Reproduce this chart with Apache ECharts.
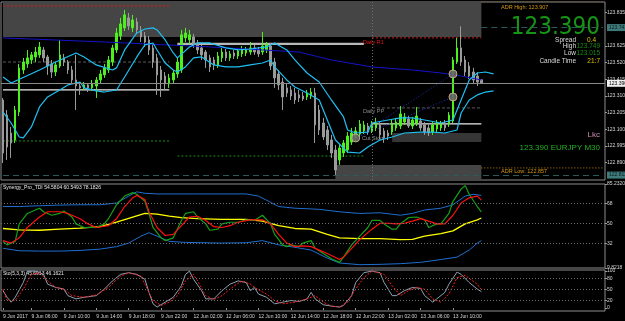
<!DOCTYPE html>
<html>
<head>
<meta charset="utf-8">
<title>EURJPY,M30</title>
<script src="https://cdn.jsdelivr.net/npm/echarts@6/dist/echarts.min.js"></script>
<style>
html, body { margin: 0; padding: 0; background: #000; }
#chart { width: 625px; height: 321px; }
</style>
</head>
<body>
<div id="chart"></div>
<script>
// M30 bars: index 0 = 9 Jun 02:30 ... index 118 = 13 Jun 13:30, rest is empty space on the right
const barCount = 149
const xLabelIndex = [0, 7, 15, 23, 31, 39, 47, 55, 63, 71, 79, 87, 95, 103, 111]
const xLabelText = ['9 Jun 2017', '9 Jun 06:00', '9 Jun 10:00', '9 Jun 14:00', '9 Jun 18:00', '9 Jun 22:00',
  '12 Jun 02:00', '12 Jun 06:00', '12 Jun 10:00', '12 Jun 14:00', '12 Jun 18:00', '12 Jun 22:00',
  '13 Jun 02:00', '13 Jun 06:00', '13 Jun 10:00']

const priceTicks = [122.890, 122.995, 123.100, 123.205, 123.310, 123.415, 123.520, 123.625, 123.835]
const tdiTicks = [9.8218, 32, 50, 68, 85.2320]
const stochTicks = [0, 20, 50, 80, 100]

// [open, close, low, high]
const candles = [
  [123.285, 122.951, 122.888, 123.298], [123.190, 122.989, 122.907, 123.222], [123.077, 123.014, 122.920, 123.115],
  [123.033, 123.222, 123.014, 123.247], [123.209, 123.487, 123.184, 123.512], [123.474, 123.524, 123.449, 123.550],
  [123.512, 123.550, 123.487, 123.600], [123.537, 123.569, 123.512, 123.587], [123.556, 123.587, 123.524, 123.619],
  [123.569, 123.619, 123.550, 123.650], [123.600, 123.550, 123.524, 123.619], [123.556, 123.499, 123.443, 123.569],
  [123.512, 123.461, 123.424, 123.537], [123.461, 123.506, 123.436, 123.524], [123.499, 123.569, 123.487, 123.663],
  [123.550, 123.524, 123.499, 123.575], [123.524, 123.474, 123.449, 123.537], [123.474, 123.411, 123.386, 123.499],
  [123.411, 123.373, 123.222, 123.569], [123.373, 123.361, 123.317, 123.398], [123.361, 123.380, 123.348, 123.398],
  [123.380, 123.361, 123.335, 123.392], [123.361, 123.386, 123.342, 123.411], [123.373, 123.411, 123.298, 123.430],
  [123.411, 123.449, 123.386, 123.474], [123.443, 123.487, 123.424, 123.512], [123.474, 123.537, 123.455, 123.562],
  [123.524, 123.613, 123.499, 123.632], [123.600, 123.707, 123.581, 123.739], [123.688, 123.764, 123.663, 123.802],
  [123.739, 123.821, 123.720, 123.852], [123.802, 123.751, 123.726, 123.833], [123.739, 123.789, 123.713, 123.821],
  [123.776, 123.726, 123.701, 123.802], [123.726, 123.682, 123.650, 123.751], [123.688, 123.650, 123.619, 123.713],
  [123.663, 123.600, 123.569, 123.688], [123.613, 123.524, 123.487, 123.638], [123.550, 123.443, 123.317, 123.575],
  [123.474, 123.411, 123.304, 123.499], [123.436, 123.386, 123.348, 123.461], [123.386, 123.424, 123.361, 123.449],
  [123.411, 123.455, 123.386, 123.474], [123.449, 123.524, 123.424, 123.550], [123.474, 123.695, 123.455, 123.726],
  [123.676, 123.707, 123.650, 123.739], [123.663, 123.695, 123.638, 123.726], [123.682, 123.638, 123.613, 123.701],
  [123.644, 123.600, 123.575, 123.663], [123.613, 123.569, 123.537, 123.632], [123.587, 123.537, 123.487, 123.600],
  [123.550, 123.493, 123.461, 123.569], [123.537, 123.506, 123.474, 123.556], [123.506, 123.562, 123.487, 123.587],
  [123.550, 123.587, 123.524, 123.613], [123.587, 123.550, 123.531, 123.606], [123.550, 123.575, 123.531, 123.594],
  [123.581, 123.562, 123.543, 123.600], [123.562, 123.594, 123.543, 123.613], [123.575, 123.600, 123.556, 123.625],
  [123.581, 123.600, 123.562, 123.619], [123.587, 123.613, 123.569, 123.650], [123.613, 123.587, 123.569, 123.632],
  [123.600, 123.575, 123.556, 123.619], [123.587, 123.625, 123.569, 123.713], [123.600, 123.632, 123.581, 123.650],
  [123.625, 123.499, 123.474, 123.644], [123.524, 123.424, 123.361, 123.550], [123.449, 123.380, 123.348, 123.474],
  [123.398, 123.304, 123.222, 123.424], [123.361, 123.329, 123.304, 123.386], [123.348, 123.310, 123.285, 123.373],
  [123.329, 123.285, 123.260, 123.361], [123.317, 123.298, 123.272, 123.348], [123.310, 123.291, 123.279, 123.335],
  [123.304, 123.329, 123.285, 123.348], [123.310, 123.335, 123.291, 123.361], [123.329, 123.128, 123.014, 123.361],
  [123.222, 123.096, 123.065, 123.254], [123.140, 123.052, 123.033, 123.172], [123.096, 123.002, 122.970, 123.121],
  [123.033, 122.951, 122.920, 123.065], [122.970, 122.844, 122.813, 123.002], [122.907, 122.983, 122.876, 123.008],
  [122.951, 123.014, 122.926, 123.033], [122.970, 123.058, 122.951, 123.083], [123.020, 123.077, 123.002, 123.109],
  [123.046, 123.090, 123.027, 123.115], [123.071, 123.134, 123.052, 123.159], [123.090, 123.128, 123.071, 123.153],
  [123.121, 123.083, 123.065, 123.140], [123.090, 123.134, 123.077, 123.153], [123.109, 123.140, 123.090, 123.172],
  [123.128, 123.065, 123.039, 123.146], [123.090, 123.046, 123.015, 123.109], [123.077, 123.058, 123.033, 123.096],
  [123.083, 123.134, 123.065, 123.159], [123.109, 123.146, 123.090, 123.172], [123.121, 123.197, 123.102, 123.247],
  [123.146, 123.178, 123.128, 123.203], [123.165, 123.121, 123.109, 123.184], [123.121, 123.159, 123.102, 123.178],
  [123.140, 123.184, 123.121, 123.241], [123.153, 123.109, 123.090, 123.172], [123.128, 123.083, 123.065, 123.146],
  [123.109, 123.077, 123.058, 123.128], [123.083, 123.128, 123.065, 123.146], [123.102, 123.140, 123.083, 123.159],
  [123.109, 123.134, 123.090, 123.153], [123.140, 123.109, 123.090, 123.159], [123.134, 123.190, 123.115, 123.209],
  [123.153, 123.537, 123.140, 123.556], [123.524, 123.613, 123.512, 123.676], [123.613, 123.524, 123.499, 123.749],
  [123.537, 123.461, 123.436, 123.562], [123.499, 123.436, 123.417, 123.524], [123.461, 123.411, 123.386, 123.487],
  [123.436, 123.398, 123.373, 123.461], [123.412, 123.390, 123.385, 123.414]
]

// main pane indicators, [bar, price]
const bandUpper = [[0, 123.430], [2, 123.392], [9, 123.474], [13, 123.524], [18, 123.581], [20, 123.556], [23, 123.506],
  [27, 123.474], [28, 123.487], [30, 123.600], [33, 123.707], [35, 123.732], [37, 123.739], [38, 123.726], [40, 123.663],
  [42, 123.581], [43, 123.550], [46, 123.619], [48, 123.644], [51, 123.644], [55, 123.613], [58, 123.600], [61, 123.606],
  [65, 123.619], [67, 123.644], [70, 123.600], [72, 123.537], [75, 123.455], [78, 123.398], [81, 123.285], [84, 123.178],
  [85, 123.096], [87, 123.077], [90, 123.083], [91, 123.140], [95, 123.159], [98, 123.172], [101, 123.172], [104, 123.159],
  [108, 123.140], [111, 123.159], [113, 123.285], [115, 123.411], [117, 123.455], [119, 123.461], [121, 123.449]]
const bandLower = [[0, 123.209], [2, 123.140], [4, 123.052], [5, 123.046], [7, 123.115], [9, 123.241], [11, 123.304],
  [14, 123.348], [16, 123.380], [19, 123.398], [20, 123.361], [23, 123.342], [25, 123.335], [28, 123.348], [30, 123.430],
  [33, 123.556], [35, 123.632], [37, 123.644], [38, 123.600], [40, 123.518], [42, 123.474], [43, 123.461], [45, 123.493],
  [47, 123.550], [49, 123.556], [52, 123.506], [55, 123.493], [58, 123.493], [61, 123.506], [64, 123.518], [66, 123.537],
  [67, 123.493], [70, 123.411], [72, 123.367], [75, 123.329], [78, 123.285], [80, 123.159], [82, 123.033], [85, 122.957],
  [88, 122.951], [90, 122.989], [93, 123.033], [96, 123.052], [99, 123.077], [103, 123.083], [106, 123.083], [109, 123.077],
  [112, 123.096], [113, 123.203], [115, 123.285], [117, 123.317], [119, 123.335], [121, 123.342]]
const maLine = [[0, 123.676], [25, 123.650], [51, 123.619], [73, 123.587], [81, 123.537], [91, 123.493], [101, 123.474],
  [108, 123.455], [113, 123.436], [118, 123.411]]

// levels: [fromBar, toBar, price]
const redDashLevels = [[0, 41, 123.877], [91, 118, 123.676]]
const whiteLevels = [[0, 41, 123.348], [91, 118, 123.134]]
const silverLevels = [[43, 89, 123.638]]
const greenDashLevels = [[0, 41, 123.027], [43, 89, 122.932]]
const grayDashLevels = [[0, 41, 123.524], [91, 118, 123.235]]
const adrLevels = [[118, 148, 123.907], [118, 148, 122.857]]
const bidPrice = 123.390
const highMark = 123.741
const lowMark = 122.812
// boxes: [fromBar, toBar, lowPrice, highPrice]
const grayBoxes = [[0, 118, 123.682, 123.902], [82, 118, 122.781, 122.876]]
const darkBoxes = [[96, 118, 123.020, 123.077]]
const trendLines = [[[87, 123.046], [111, 123.449]], [[87, 123.046], [111, 123.304]]]
const signalDots = [[87, 123.046], [111, 123.449], [111, 123.304]]

// Synergy TDI, [bar, value]
const tdiGreen = [[0, 33.7], [1, 30.6], [3, 33.7], [4, 49.4], [6, 58.8], [9, 63.5], [10, 60.3], [12, 57.2], [14, 58.8],
  [15, 61.0], [17, 55.6], [18, 49.4], [20, 46.2], [23, 46.2], [25, 49.4], [26, 54.1], [28, 66.6], [30, 74.4], [32, 77.5],
  [33, 76.0], [35, 69.7], [36, 58.8], [37, 46.2], [39, 36.9], [40, 34.4], [42, 36.9], [44, 52.5], [45, 58.8], [47, 60.3],
  [48, 55.6], [50, 49.4], [51, 43.7], [53, 44.7], [54, 49.4], [56, 50.9], [58, 50.9], [60, 53.1], [62, 52.5], [64, 57.2],
  [66, 49.4], [67, 40.0], [69, 30.6], [70, 29.0], [71, 30.6], [73, 29.0], [74, 32.2], [76, 34.4], [77, 27.5], [79, 22.8],
  [81, 18.1], [83, 14.9], [84, 19.6], [86, 30.6], [88, 38.4], [90, 46.2], [91, 52.5], [93, 52.5], [94, 49.4], [96, 44.7],
  [97, 44.7], [98, 49.4], [100, 55.0], [102, 55.6], [104, 53.1], [105, 46.2], [107, 49.4], [108, 49.4], [110, 58.8],
  [111, 69.7], [113, 80.7], [114, 83.8], [115, 76.0], [117, 65.0], [118, 60.3]]
const tdiRed = [[0, 34.4], [2, 32.2], [4, 36.9], [6, 46.2], [9, 55.6], [11, 60.3], [14, 60.3], [16, 58.8], [19, 54.1],
  [21, 49.4], [23, 46.2], [26, 47.8], [28, 54.1], [30, 65.0], [32, 72.8], [33, 75.0], [35, 71.3], [36, 60.3], [38, 46.2],
  [40, 39.0], [42, 40.0], [44, 47.8], [46, 55.6], [48, 56.3], [50, 52.5], [52, 46.9], [54, 46.2], [56, 47.8], [58, 50.9],
  [61, 53.1], [64, 53.1], [66, 49.4], [68, 40.0], [70, 32.2], [72, 29.0], [74, 29.7], [76, 29.0], [78, 25.9], [80, 22.8],
  [83, 17.4], [84, 19.6], [86, 27.5], [88, 35.3], [91, 44.7], [93, 50.0], [95, 50.0], [97, 49.4], [99, 50.0], [101, 51.9],
  [103, 54.1], [105, 51.9], [107, 49.4], [109, 49.4], [111, 57.2], [113, 68.2], [115, 72.8], [117, 74.4], [118, 70.7]]
const tdiYellow = [[0, 45.3], [4, 44.1], [9, 43.7], [14, 44.7], [19, 45.6], [24, 46.9], [28, 50.9], [32, 55.6], [35, 58.8],
  [38, 58.1], [41, 56.3], [44, 55.0], [48, 54.1], [54, 53.4], [60, 53.4], [64, 51.9], [68, 47.8], [72, 45.3], [76, 44.7],
  [80, 40.0], [83, 36.9], [88, 36.2], [93, 36.2], [98, 35.3], [101, 35.6], [104, 38.4], [108, 40.6], [111, 43.1],
  [114, 49.4], [117, 53.1], [118, 54.7]]
const tdiUpper = [[0, 65.0], [4, 65.0], [9, 65.7], [14, 66.3], [19, 66.6], [24, 66.6], [28, 68.2], [31, 74.4], [33, 78.2],
  [35, 76.9], [38, 76.3], [43, 76.3], [48, 76.3], [54, 76.3], [60, 76.3], [63, 74.4], [66, 68.8], [68, 65.0], [72, 63.5],
  [78, 62.5], [83, 60.3], [88, 58.8], [93, 59.4], [98, 57.2], [101, 58.8], [104, 61.9], [108, 63.5], [111, 66.6],
  [114, 74.4], [116, 76.0], [118, 75.0]]
const tdiLower = [[0, 27.5], [4, 25.3], [9, 25.0], [14, 25.0], [19, 25.6], [24, 26.8], [28, 29.0], [31, 32.2], [34, 38.4],
  [36, 41.5], [38, 38.4], [41, 33.7], [45, 32.8], [54, 32.2], [60, 32.5], [64, 34.4], [68, 30.6], [72, 28.4], [76, 25.9],
  [80, 18.7], [83, 14.3], [88, 12.8], [93, 13.1], [98, 13.7], [103, 14.9], [108, 17.4], [112, 19.6], [115, 25.9],
  [117, 32.2], [118, 34.4]]

// Stochastic, [bar, value]
const stochMain = [[0, 46.9], [1, 29.2], [2, 15.9], [3, 29.2], [5, 69.0], [6, 100], [8, 100], [10, 91.2], [11, 64.6],
  [13, 55.8], [15, 51.3], [16, 33.6], [18, 24.8], [20, 29.2], [23, 33.6], [25, 51.3], [27, 73.5], [29, 91.2], [31, 95.6],
  [33, 91.2], [35, 77.9], [36, 42.5], [37, 11.5], [38, 2.7], [40, 15.9], [42, 29.2], [44, 60.2], [45, 91.2], [46, 100],
  [47, 77.9], [49, 46.9], [50, 24.8], [52, 24.8], [54, 46.9], [56, 64.6], [58, 73.5], [60, 69.0], [61, 46.9], [62, 55.8],
  [63, 38.1], [65, 29.2], [67, 11.5], [69, 15.9], [71, 20.4], [73, 17.7], [75, 24.8], [76, 42.5], [77, 24.8], [79, 8.9],
  [81, 5.3], [83, 2.7], [84, 7.1], [86, 33.6], [87, 69.0], [89, 95.6], [91, 100], [93, 95.6], [94, 69.0], [96, 33.6],
  [97, 33.6], [99, 46.9], [101, 55.8], [103, 53.1], [104, 33.6], [106, 15.9], [107, 24.8], [109, 42.5], [110, 64.6],
  [112, 97.4], [113, 91.2], [115, 69.0], [117, 51.3], [118, 44.3]]
const stochSignal = [[0, 51.3], [1, 20.4], [3, 20.4], [5, 51.3], [7, 91.2], [9, 95.6], [11, 73.5], [13, 55.8], [15, 51.3],
  [17, 33.6], [20, 29.2], [23, 35.4], [26, 55.8], [29, 86.7], [31, 95.6], [34, 86.7], [35, 64.6], [37, 20.4], [39, 7.1],
  [41, 15.9], [43, 33.6], [45, 73.5], [47, 91.2], [48, 73.5], [50, 33.6], [52, 23.0], [54, 33.6], [57, 60.2], [59, 73.5],
  [61, 64.6], [63, 49.6], [65, 38.1], [67, 20.4], [69, 11.5], [72, 15.9], [75, 24.8], [77, 33.6], [79, 15.9], [81, 5.3],
  [83, 2.7], [85, 15.9], [87, 51.3], [89, 82.3], [91, 100], [94, 91.2], [96, 60.2], [98, 33.6], [100, 46.9], [102, 55.8],
  [104, 51.3], [106, 24.8], [108, 15.9], [110, 38.1], [112, 82.3], [114, 88.5], [117, 64.6], [118, 49.6]]

const cats = Array.from({ length: barCount }, (_, i) => String(i))
const labelAt = {}
xLabelIndex.forEach((idx, k) => { labelAt[idx] = xLabelText[k] })

const FONT = 'Liberation Sans'
const axisText = '#d6d6d6'

function levelSeries(list, color, type, width, z) {
  return list.map(s => ({
    type: 'line', xAxisIndex: 0, yAxisIndex: 0, silent: true, symbol: 'none', z: z || 2,
    data: [[s[0], s[2]], [s[1], s[2]]],
    lineStyle: { color: color, type: type, width: width }
  }))
}
function areaData(list, color) {
  return list.map(b => [
    { coord: [b[0], b[3]], itemStyle: { color: color } },
    { coord: [b[1], b[2]] }
  ])
}
function lineSeries(data, grid, color, width, type, z) {
  return {
    type: 'line', xAxisIndex: grid, yAxisIndex: grid, data: data, symbol: 'none', silent: true,
    z: z || 4, lineStyle: { color: color, width: width, type: type || 'solid' }
  }
}
function xAxisFor(i, show) {
  return {
    type: 'category', gridIndex: i, data: cats, boundaryGap: true, show: show,
    axisLine: { show: false },
    axisTick: {
      show: show, length: 2, alignWithLabel: true, lineStyle: { color: '#9a9a9a' },
      interval: idx => labelAt[idx] !== undefined
    },
    axisLabel: {
      show: show, fontSize: 5, fontFamily: FONT, color: axisText, align: 'left', margin: 3,
      interval: idx => labelAt[idx] !== undefined,
      formatter: v => labelAt[v] || ''
    },
    splitLine: { show: false }
  }
}
function yAxisFor(i, min, max, ticks, fmt) {
  return {
    type: 'value', gridIndex: i, position: 'right', min: min, max: max, scale: true,
    axisLine: { show: false },
    splitLine: { show: false },
    axisTick: { show: true, length: 2, customValues: ticks, lineStyle: { color: '#9a9a9a' } },
    axisLabel: {
      show: true, customValues: ticks, fontSize: 5, fontFamily: FONT, color: axisText, margin: 2,
      formatter: fmt
    }
  }
}

const chart = echarts.init(document.getElementById('chart'))

const gridStyle = { show: true, borderColor: '#8c8c8c', borderWidth: 1, backgroundColor: 'transparent', outerBoundsMode: 'none' }

const option = {
  animation: false,
  backgroundColor: '#000',
  grid: [
    Object.assign({ left: 1, top: 2, width: 604, height: 178 }, gridStyle),
    Object.assign({ left: 1, top: 184, width: 604, height: 84 }, gridStyle),
    Object.assign({ left: 1, top: 270, width: 604, height: 41 }, gridStyle)
  ],
  xAxis: [xAxisFor(0, false), xAxisFor(1, false), xAxisFor(2, true)],
  yAxis: [
    yAxisFor(0, 122.781, 123.902, priceTicks, v => v.toFixed(3)),
    yAxisFor(1, 9.8218, 85.2320, tdiTicks, v => (v === 9.8218 ? '9.8218' : v === 85.232 ? '85.2320' : String(v))),
    yAxisFor(2, -8, 103, stochTicks, v => String(v))
  ],
  series: [
    {
      type: 'candlestick', xAxisIndex: 0, yAxisIndex: 0, data: candles, barWidth: 2, z: 3, silent: true,
      itemStyle: { color: '#4cf01c', color0: '#9a9a9a', borderColor: '#4cf01c', borderColor0: '#9a9a9a', borderWidth: 1 },
      markArea: {
        silent: true,
        data: areaData(grayBoxes, '#454545').concat(areaData(darkBoxes, '#363636'))
      },
      markLine: {
        silent: true, symbol: ['none', 'none'],
        data: [
          { xAxis: 91, lineStyle: { color: '#6e6e6e', type: [1, 2], width: 1 }, label: { show: false } },
          {
            yAxis: bidPrice, lineStyle: { color: '#8a8a8a', type: 'solid', width: 1 },
            label: { show: true, position: 'end', distance: 2, formatter: bidPrice.toFixed(3), color: '#000', backgroundColor: '#f0f0f0', fontSize: 5, fontFamily: FONT, padding: [1, 2] }
          },
          [
            { coord: [118, highMark], lineStyle: { color: '#2f5a5a', type: [6, 4], width: 1 },
              label: { show: true, position: 'end', distance: 4, formatter: highMark.toFixed(3), color: '#0c1c1c', backgroundColor: '#3e7a7a', fontSize: 5, fontFamily: FONT, padding: [1, 2] } },
            { coord: [148, highMark] }
          ],
          [
            { coord: [0, lowMark], lineStyle: { color: '#2f5a5a', type: [6, 4], width: 1 },
              label: { show: true, position: 'end', distance: 4, formatter: lowMark.toFixed(3), color: '#0c1c1c', backgroundColor: '#3e7a7a', fontSize: 5, fontFamily: FONT, padding: [1, 2] } },
            { coord: [148, lowMark] }
          ]
        ]
      }
    },
    ...levelSeries(redDashLevels, '#e01818', [2, 2], 1),
    ...levelSeries(whiteLevels, '#ececec', 'solid', 1.3),
    ...levelSeries(silverLevels, '#b8b8b8', 'solid', 2.2),
    ...levelSeries(greenDashLevels, '#1e8c1e', [2, 2], 1),
    ...levelSeries(grayDashLevels, '#5c5c5c', [3, 2], 1),
    ...levelSeries(adrLevels, '#c08a10', [1, 2], 1),
    ...trendLines.map(t => lineSeries(t, 0, '#2030c8', 1, [1, 2], 3)),
    lineSeries(maLine, 0, '#1414c8', 1),
    lineSeries(bandUpper, 0, '#1ec0f2', 1.2),
    lineSeries(bandLower, 0, '#1ec0f2', 1.2),
    {
      type: 'scatter', xAxisIndex: 0, yAxisIndex: 0, data: signalDots, symbolSize: 8, z: 6, silent: true,
      itemStyle: { color: '#6a6a6a', borderColor: '#cbb48a', borderWidth: 1, opacity: 0.9 }
    },
    // TDI pane
    Object.assign(lineSeries(tdiYellow, 1, '#ffff00', 1.3), {
      markLine: {
        silent: true, symbol: ['none', 'none'], label: { show: false },
        lineStyle: { color: '#707070', type: [1, 2], width: 1 },
        data: [{ yAxis: 32 }, { yAxis: 50 }, { yAxis: 68 }]
      }
    }),
    lineSeries(tdiUpper, 1, '#1f6fd0', 1),
    lineSeries(tdiLower, 1, '#1f6fd0', 1),
    lineSeries(tdiGreen, 1, '#16a016', 1.2),
    lineSeries(tdiRed, 1, '#ff1010', 1.2),
    // Stochastic pane
    Object.assign(lineSeries(stochMain, 2, '#8fa0b4', 1), {
      markLine: {
        silent: true, symbol: ['none', 'none'], label: { show: false },
        lineStyle: { color: '#707070', type: [1, 2], width: 1 },
        data: [{ yAxis: 20 }, { yAxis: 50 }, { yAxis: 80 }]
      }
    }),
    lineSeries(stochSignal, 2, '#ff1a1a', 1, [2, 1.5])
  ],
  graphic: [
    { type: 'text', x: 3, y: 6, style: { text: '\u25BC EURJPY,M30  123.412 123.414 123.385 123.390', fill: '#e8e8e8', font: '5.5px ' + FONT, verticalAlign: 'middle', textVerticalAlign: 'middle' } },
    { type: 'text', x: 3, y: 11.5, style: { text: 'ADR 1.00 2005/2027 01 Mod 01', fill: '#e8e8e8', font: '5.5px ' + FONT, verticalAlign: 'middle', textVerticalAlign: 'middle' } },
    { type: 'text', x: 3, y: 17.5, style: { text: "ADR Value= 89, Reached= No, Today's Range= 73, T's High= 123.749, T's Low= 123.015", fill: '#e8e8e8', font: '5.5px ' + FONT, verticalAlign: 'middle', textVerticalAlign: 'middle' } },
    { type: 'text', x: 3, y: 24, style: { text: 'Target High= 123.907, Target Low= 122.857 ( To ADR High= 52, To ADR Low= 53', fill: '#e8e8e8', font: '5.5px ' + FONT, verticalAlign: 'middle', textVerticalAlign: 'middle' } },
    { type: 'text', x: 380, y: 33, style: { text: "Yesterday's High", fill: '#6a6a6a', font: '6px ' + FONT, verticalAlign: 'middle', textVerticalAlign: 'middle' } },
    { type: 'text', x: 363, y: 42, style: { text: 'Daily R1', fill: '#e01818', font: '5.5px ' + FONT, verticalAlign: 'middle', textVerticalAlign: 'middle' } },
    { type: 'text', x: 363, y: 111, style: { text: 'Daily PP', fill: '#8a8a8a', font: '5.5px ' + FONT, verticalAlign: 'middle', textVerticalAlign: 'middle' } },
    { type: 'text', x: 362, y: 138, style: { text: 'Cut Stop', fill: '#9a9a9a', font: '5.5px ' + FONT, verticalAlign: 'middle', textVerticalAlign: 'middle' } },
    { type: 'text', x: 501, y: 7, style: { text: 'ADR High: 123.907', fill: '#d69a10', font: '5.5px ' + FONT, verticalAlign: 'middle', textVerticalAlign: 'middle' } },
    { type: 'text', x: 501, y: 171, style: { text: 'ADR Low: 122.857', fill: '#d69a10', font: '5.5px ' + FONT, verticalAlign: 'middle', textVerticalAlign: 'middle' } },
    { type: 'text', x: 600, y: 28, style: { text: '123.390', fill: '#169416', font: "24px 'Liberation Sans Narrow', 'DejaVu Sans Condensed', sans-serif", align: 'right', textAlign: 'right', verticalAlign: 'middle', textVerticalAlign: 'middle' } },
    { type: 'text', x: 576, y: 40, style: { text: 'Spread', fill: '#dcdcdc', font: '6.5px ' + FONT, align: 'right', textAlign: 'right', verticalAlign: 'middle', textVerticalAlign: 'middle' } },
    { type: 'text', x: 596, y: 40, style: { text: '0.4', fill: '#d8c000', font: '6.5px ' + FONT, align: 'right', textAlign: 'right', verticalAlign: 'middle', textVerticalAlign: 'middle' } },
    { type: 'text', x: 576, y: 46.5, style: { text: 'High', fill: '#dcdcdc', font: '6.5px ' + FONT, align: 'right', textAlign: 'right', verticalAlign: 'middle', textVerticalAlign: 'middle' } },
    { type: 'text', x: 600, y: 46.5, style: { text: '123.749', fill: '#188a18', font: '6.5px ' + FONT, align: 'right', textAlign: 'right', verticalAlign: 'middle', textVerticalAlign: 'middle' } },
    { type: 'text', x: 576, y: 53, style: { text: 'Low', fill: '#dcdcdc', font: '6.5px ' + FONT, align: 'right', textAlign: 'right', verticalAlign: 'middle', textVerticalAlign: 'middle' } },
    { type: 'text', x: 600, y: 53, style: { text: '123.015', fill: '#188a18', font: '6.5px ' + FONT, align: 'right', textAlign: 'right', verticalAlign: 'middle', textVerticalAlign: 'middle' } },
    { type: 'text', x: 576, y: 61, style: { text: 'Candle Time', fill: '#dcdcdc', font: '6.5px ' + FONT, align: 'right', textAlign: 'right', verticalAlign: 'middle', textVerticalAlign: 'middle' } },
    { type: 'text', x: 600, y: 61, style: { text: '21:7', fill: '#d8c000', font: '6.5px ' + FONT, align: 'right', textAlign: 'right', verticalAlign: 'middle', textVerticalAlign: 'middle' } },
    { type: 'text', x: 600, y: 135, style: { text: 'Lkc', fill: '#d08db4', font: '8px ' + FONT, align: 'right', textAlign: 'right', verticalAlign: 'middle', textVerticalAlign: 'middle' } },
    { type: 'text', x: 600, y: 147.5, style: { text: '123.390 EURJPY M30', fill: '#22b022', font: '8px ' + FONT, align: 'right', textAlign: 'right', verticalAlign: 'middle', textVerticalAlign: 'middle' } },
    { type: 'text', x: 3, y: 188, style: { text: 'Synergy_Pro_TDI 54.5804 60.5493 78.1826', fill: '#e8e8e8', font: '5px ' + FONT, verticalAlign: 'middle', textVerticalAlign: 'middle' } },
    { type: 'text', x: 3, y: 274, style: { text: 'Sto(5,3,3) 45.6913 46.1621', fill: '#e8e8e8', font: '5px ' + FONT, verticalAlign: 'middle', textVerticalAlign: 'middle' } }
  ]
}

chart.setOption(option)
</script>
</body>
</html>
